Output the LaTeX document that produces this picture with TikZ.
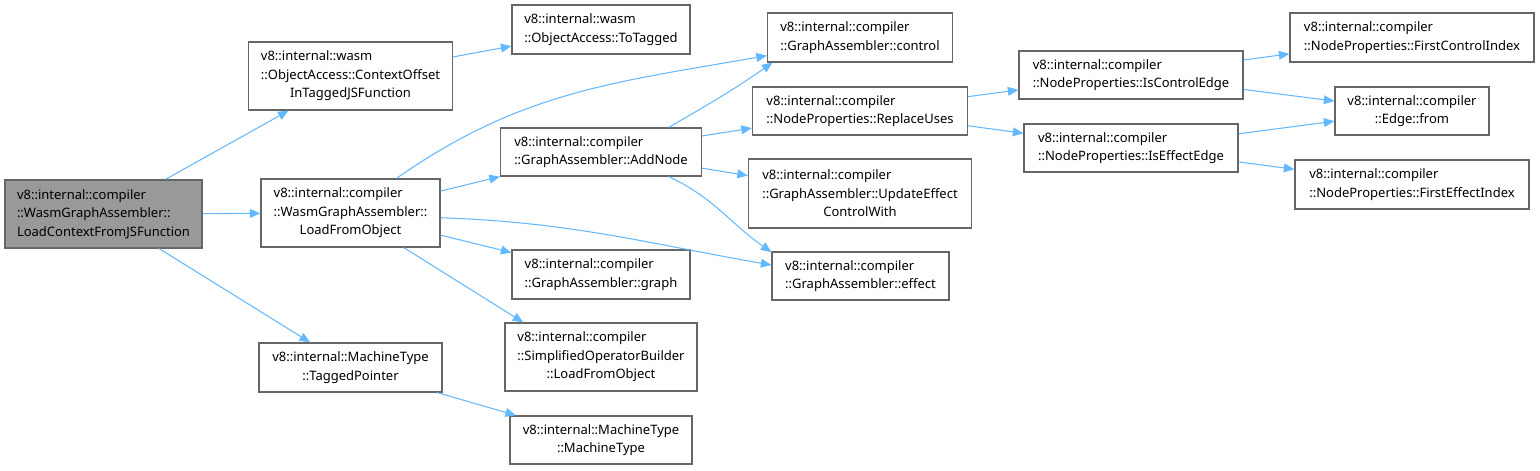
\documentclass[tikz,border=0pt]{standalone}
\usepackage{fontspec}
\setmainfont{Noto Sans}
\usetikzlibrary{arrows.meta}
\definecolor{edgeblue}{HTML}{63B8FF}
\definecolor{boxgray}{HTML}{666666}
\definecolor{rootfill}{HTML}{999999}
\newcommand\lastline[1]{\null\hfil#1}
\begin{document}
\begin{tikzpicture}[x=0.02cm,y=-0.02cm,>={Triangle[length=6pt,width=5pt]},
  every node/.style={font=\fontsize{7.4pt}{10.5pt}\selectfont},
  fnbox/.style 2 args={draw=boxgray,line width=0.7pt,fill=white,align=left,inner sep=0pt,
    minimum width=#1*0.02cm,minimum height=#2*0.02cm},
  call/.style={->,draw=edgeblue,line width=0.6pt}]
\useasboundingbox (0,0) rectangle (1540,470);
\node[fnbox={197}{68},fill=rootfill] (root) at (103.5,214) {v8::internal::compiler\\::WasmGraphAssembler::\\LoadContextFromJSFunction};
\node[fnbox={204}{68}] (ctxoff) at (350.5,76) {v8::internal::wasm\\::ObjectAccess::ContextOffset\\\lastline{InTaggedJSFunction}};
\node[fnbox={178}{49}] (totagged) at (601,29.5) {v8::internal::wasm\\::ObjectAccess::ToTagged};
\node[fnbox={179}{68}] (loadobj) at (350.5,213) {v8::internal::compiler\\::WasmGraphAssembler::\\\lastline{LoadFromObject}};
\node[fnbox={183}{49}] (tagged) at (350.5,367.5) {v8::internal::MachineType\\\lastline{::TaggedPointer}};
\node[fnbox={201}{48}] (addnode) at (601,152) {v8::internal::compiler\\::GraphAssembler::AddNode};
\node[fnbox={178}{49}] (graph) at (601,274.5) {v8::internal::compiler\\::GraphAssembler::graph};
\node[fnbox={192}{68}] (simplified) at (601,357) {v8::internal::compiler\\::SimplifiedOperatorBuilder\\\lastline{::LoadFromObject}};
\node[fnbox={182}{48}] (machinetype) at (601,440) {v8::internal::MachineType\\\lastline{::MachineType}};
\node[fnbox={185}{49}] (control) at (860,37.5) {v8::internal::compiler\\::GraphAssembler::control};
\node[fnbox={215}{48}] (replaceuses) at (860,111) {v8::internal::compiler\\::NodeProperties::ReplaceUses};
\node[fnbox={223}{69}] (updeffect) at (860,193.5) {v8::internal::compiler\\::GraphAssembler::UpdateEffect\\\lastline{ControlWith}};
\node[fnbox={177}{48}] (effect) at (860.5,276) {v8::internal::compiler\\::GraphAssembler::effect};
\node[fnbox={224}{48}] (isctrl) at (1131,75) {v8::internal::compiler\\::NodeProperties::IsControlEdge};
\node[fnbox={214}{48}] (iseffect) at (1131,148) {v8::internal::compiler\\::NodeProperties::IsEffectEdge};
\node[fnbox={244}{49}] (firstctrl) at (1412,37.5) {v8::internal::compiler\\::NodeProperties::FirstControlIndex};
\node[fnbox={154}{48}] (edgefrom) at (1412,111) {v8::internal::compiler\\\lastline{::Edge::from}};
\node[fnbox={234}{49}] (firsteffect) at (1412,184.5) {v8::internal::compiler\\::NodeProperties::FirstEffectIndex};
\foreach \a/\b in {root/ctxoff,root/loadobj,root/tagged,ctxoff/totagged,loadobj/addnode,loadobj/graph,
  tagged/machinetype,addnode/replaceuses,addnode/updeffect,replaceuses/isctrl,replaceuses/iseffect,
  isctrl/firstctrl,isctrl/edgefrom,iseffect/edgefrom,iseffect/firsteffect}
  \draw[call] (\a) -- (\b);
\draw[call] (loadobj.37) to[out=35,in=190] (control.191);
\draw[call] (loadobj.-3) to[out=-2,in=170] (effect.173);
\draw[call] (loadobj.-33) -- (simplified.156);
\draw[call] (addnode.20) to[out=30,in=215] (control.196);
\draw[call] (addnode.-20) to[out=-25,in=145] (effect.165);
\end{tikzpicture}
\end{document}
